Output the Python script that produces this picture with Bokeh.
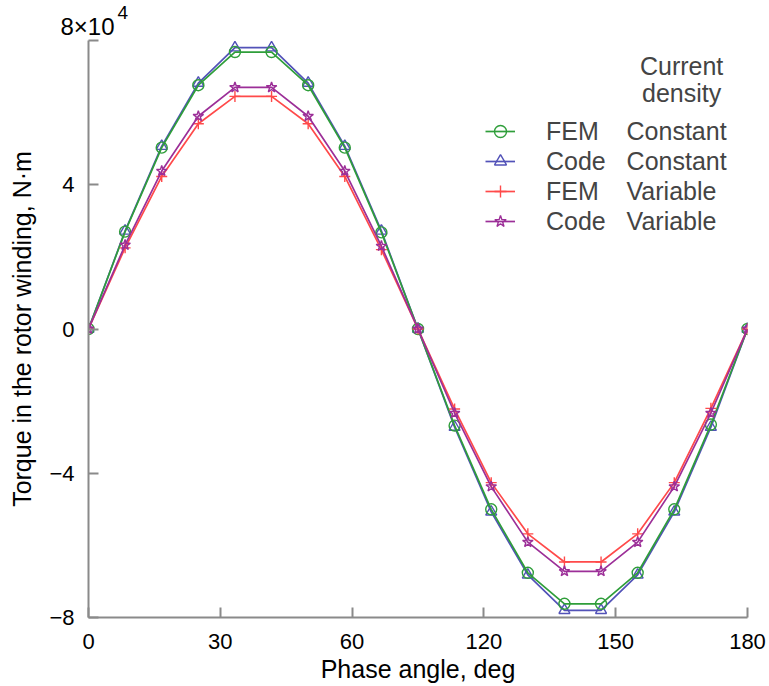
import numpy as np
from bokeh.plotting import figure
from bokeh.models import Range1d, Legend, LegendItem, Label, FixedTicker, Title
from bokeh.embed import file_html
from bokeh.resources import INLINE

# ---- data ----
phase_deg = [0, 10, 20, 30, 40, 50, 60, 70, 80, 90, 100, 110, 120, 130, 140, 150, 160, 170, 180]
fem_constant = [0, 27000, 50300, 67600, 76800, 76800, 67600, 50300, 26800, 0,
                -26800, -50000, -67600, -76200, -76200, -67600, -50000, -26500, 0]
code_constant = [0, 27200, 50700, 68200, 78000, 78000, 68200, 50700, 27200, 0,
                 -27200, -50700, -68200, -78000, -78000, -68200, -50700, -27200, 0]
fem_variable = [0, 22500, 42300, 56900, 64500, 64500, 56900, 42300, 22000, 0,
                -22200, -42600, -56800, -64600, -64600, -56800, -42600, -22000, 0]
code_variable = [0, 23300, 43800, 59000, 67000, 67000, 59000, 43800, 23000, 0,
                 -23300, -43700, -59100, -67200, -67200, -59100, -43700, -23300, 0]

x_tick_labels = ["0", "30", "60", "120", "150", "180"]
y_tick_values = [-80000, -40000, 0, 40000, 80000]
y_tick_labels = ["\u22128", "\u22124", "0", "4", ""]
y_top_mantissa = "8\u00d710"
y_top_exponent = "4"

series_methods = ["FEM", "Code", "FEM", "Code"]
series_density = ["Constant", "Constant", "Variable", "Variable"]

FONT = "Liberation Sans"
AXIS_COLOR = "#8a8a8a"

p = figure(width=769, height=686, output_backend="svg", toolbar_location=None,
           x_range=Range1d(0, 180), y_range=Range1d(-80000, 80000),
           min_border_left=88, min_border_right=22, min_border_top=40, min_border_bottom=69)
p.outline_line_color = None
p.xgrid.grid_line_color = None
p.ygrid.grid_line_color = None
p.background_fill_color = "white"
p.border_fill_color = "white"

# top tick label (8x10^4): mantissa title next to the frame, exponent title above it
p.add_layout(Title(text=y_top_mantissa, align="left", offset=-28, standoff=2,
                   text_font=FONT, text_font_size="24px", text_font_style="normal",
                   text_color="black"), "above")
p.title.text = y_top_exponent
p.title.align = "left"
p.title.offset = 29
p.title.standoff = -18
p.title.text_font = FONT
p.title.text_font_size = "19px"
p.title.text_font_style = "normal"
p.title.text_color = "black"

x_ticks = list(np.linspace(0, 180, len(x_tick_labels)))
p.xaxis.ticker = FixedTicker(ticks=x_ticks)
p.xaxis.major_label_overrides = {t: lab for t, lab in zip(x_ticks, x_tick_labels)}
p.yaxis.ticker = FixedTicker(ticks=y_tick_values)
p.yaxis.major_label_overrides = {t: lab for t, lab in zip(y_tick_values, y_tick_labels)}

for ax in (p.xaxis, p.yaxis):
    ax.axis_line_color = AXIS_COLOR
    ax.axis_line_width = 2
    ax.major_tick_line_color = AXIS_COLOR
    ax.major_tick_line_width = 2
    ax.major_tick_in = 10
    ax.major_tick_out = 0
    ax.minor_tick_line_color = None
    ax.major_label_text_font = FONT
    ax.major_label_text_font_size = "22px"
    ax.major_label_text_color = "black"
    ax.axis_label_text_font = FONT
    ax.axis_label_text_font_size = "25px"
    ax.axis_label_text_font_style = "normal"
    ax.axis_label_text_color = "black"

p.xaxis.axis_label = "Phase angle, deg"
p.yaxis.axis_label = "Torque in the rotor winding, N\u00b7m"
p.xaxis.major_label_standoff = 16
p.xaxis.axis_label_standoff = 3
p.yaxis.major_label_standoff = 14
p.yaxis.axis_label_standoff = 10

styles = [
    (fem_constant, "#2f9e3a", "circle"),
    (code_constant, "#5252b8", "triangle"),
    (fem_variable, "#ff4a4a", "cross"),
    (code_variable, "#9c2f98", "star"),
]
draw_order = [1, 0, 2, 3]
renderers = {}
for i in draw_order:
    ys, col, mk = styles[i]
    ln = p.line(phase_deg, ys, line_color=col, line_width=1.7)
    sc = p.scatter(phase_deg, ys, marker=mk, size=11, line_color=col, line_width=1.4,
                   fill_color=None)
    renderers[i] = [ln, sc]

def pad_label(method, density):
    n = 4 if method == "FEM" else 3
    return method + "\u00a0" * n + density

items = [LegendItem(label=pad_label(m, d), renderers=renderers[i])
         for i, (m, d) in enumerate(zip(series_methods, series_density))]
legend = Legend(items=items, location=(397, 381), border_line_color=None,
                background_fill_alpha=0, padding=0, margin=0, spacing=0,
                glyph_width=30, glyph_height=30, label_height=30, label_standoff=31,
                label_text_font=FONT, label_text_font_size="25px")
p.add_layout(legend)

# legend header
p.add_layout(Label(x=162, y=72900, text="Current", text_align="center",
                   text_baseline="alphabetic", text_font=FONT, text_font_size="25px"))
p.add_layout(Label(x=162, y=65400, text="density", text_align="center",
                   text_baseline="alphabetic", text_font=FONT, text_font_size="25px"))

open("out.html", "w").write(file_html(p, INLINE))
